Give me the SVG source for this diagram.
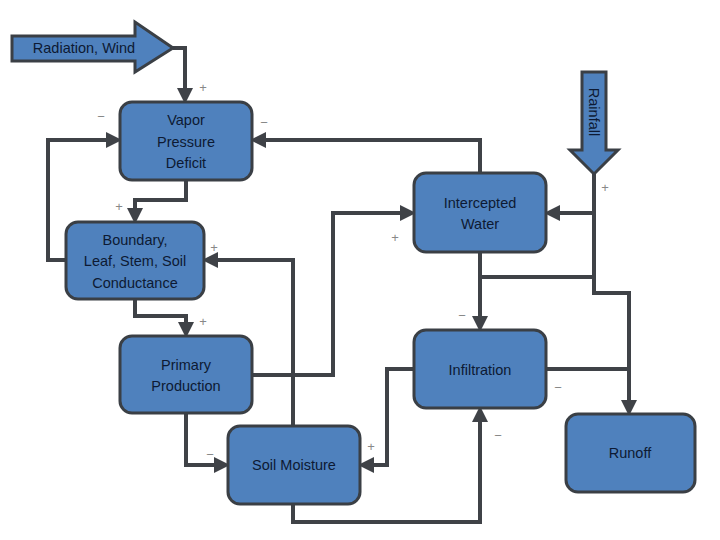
<svg xmlns="http://www.w3.org/2000/svg" width="720" height="540" viewBox="0 0 720 540">
<style>
.n{fill:#4f81bd;stroke:#3a3f45;stroke-width:3}
.t{font-family:"Liberation Sans",Arial,sans-serif;font-size:14.5px;fill:#0d1a33;text-anchor:middle}
.c{fill:none;stroke:#3f4247;stroke-width:4}
.s{font-family:"Liberation Sans",Arial,sans-serif;font-size:13px;fill:#888;text-anchor:middle}
</style>
<defs><marker id="a" markerWidth="4" markerHeight="4" refX="3" refY="2" orient="auto"><path d="M0,0L4,2L0,4z" fill="#3f4247"/></marker></defs>
<rect width="720" height="540" fill="#fff"/>
<g id="connectors" class="c">
<path d="M173,48H185V100" marker-end="url(#a)"/>
<path d="M186,180V200H135V220" marker-end="url(#a)"/>
<path d="M66,260H48V140H118" marker-end="url(#a)"/>
<path d="M480,173V140H254" marker-end="url(#a)"/>
<path d="M594,174V213H548" marker-end="url(#a)"/>
<path d="M594,213V293H629V412" marker-end="url(#a)"/>
<path d="M480,277H594"/>
<path d="M480,252V328" marker-end="url(#a)"/>
<path d="M546,369H629"/>
<path d="M135,299V316H186V334" marker-end="url(#a)"/>
<path d="M252,375H333V213H412" marker-end="url(#a)"/>
<path d="M293,426V260H206" marker-end="url(#a)"/>
<path d="M186,413V465H226" marker-end="url(#a)"/>
<path d="M414,369H387V465H362" marker-end="url(#a)"/>
<path d="M293,504V522H480V410" marker-end="url(#a)"/>
</g>
<g id="radiation"><path class="n" d="M12,36H135V22L173,48L135,72V61H12z"/><text class="t" x="84" y="53">Radiation, Wind</text></g>
<g id="rainfall"><path class="n" d="M582,72H606V150H618L594,174L570,150H582z"/><text class="t" transform="translate(589,112) rotate(90)">Rainfall</text></g>
<g id="vpd"><rect class="n" x="120" y="102" width="132" height="78" rx="12"/><text class="t" x="186" y="125">Vapor</text><text class="t" x="186" y="147">Pressure</text><text class="t" x="186" y="168">Deficit</text></g>
<g id="boundary"><rect class="n" x="66" y="222" width="138" height="77" rx="12"/><text class="t" x="135" y="245">Boundary,</text><text class="t" x="135" y="266">Leaf, Stem, Soil</text><text class="t" x="135" y="288">Conductance</text></g>
<g id="intercepted"><rect class="n" x="414" y="173" width="132" height="79" rx="12"/><text class="t" x="480" y="208">Intercepted</text><text class="t" x="480" y="229">Water</text></g>
<g id="primary"><rect class="n" x="120" y="336" width="132" height="77" rx="12"/><text class="t" x="186" y="370">Primary</text><text class="t" x="186" y="391">Production</text></g>
<g id="infiltration"><rect class="n" x="414" y="330" width="132" height="78" rx="12"/><text class="t" x="480" y="375">Infiltration</text></g>
<g id="soil"><rect class="n" x="228" y="426" width="132" height="78" rx="12"/><text class="t" x="294" y="470">Soil Moisture</text></g>
<g id="runoff"><rect class="n" x="566" y="414" width="129" height="78" rx="12"/><text class="t" x="630" y="458">Runoff</text></g>
<g id="signs" class="s">
<text x="203" y="92">+</text><text x="101" y="121">−</text><text x="264" y="127">−</text><text x="119" y="211">+</text><text x="214" y="252">+</text><text x="395" y="242">+</text><text x="605" y="192">+</text><text x="462" y="320">−</text><text x="203" y="326">+</text><text x="558" y="392">−</text><text x="210" y="459">−</text><text x="371" y="451">+</text><text x="498" y="440">−</text>
</g>
</svg>
